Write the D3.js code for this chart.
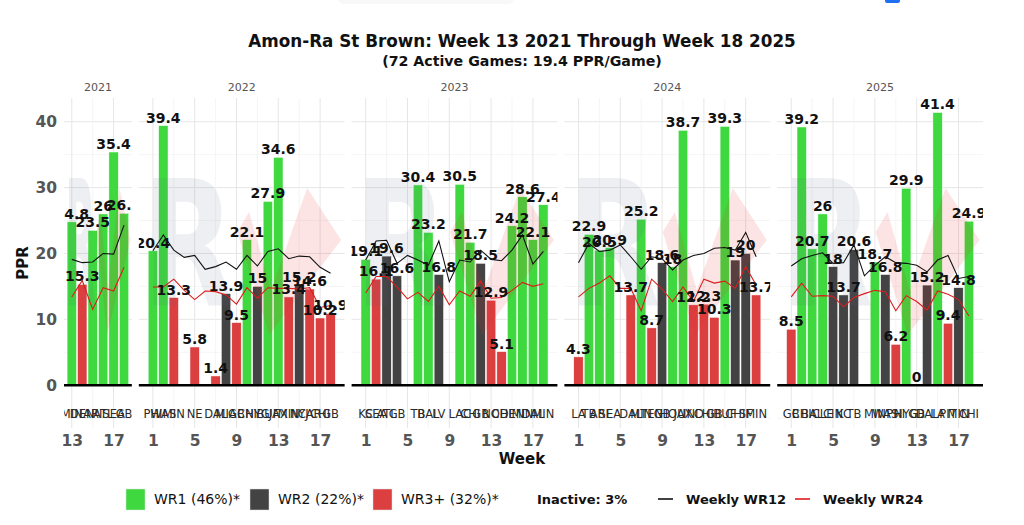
<!DOCTYPE html>
<html>
<head>
<meta charset="utf-8">
<script src="https://cdnjs.cloudflare.com/ajax/libs/d3/7.9.0/d3.min.js"></script>
<style>
  body { margin: 0; background: #fff; }
  svg { display: block; font-family: "DejaVu Sans", sans-serif; }
</style>
</head>
<body>
<div id="chart"></div>
<script>
// --- data ---
// tier: 1 = WR1, 2 = WR2, 3 = WR3+
const weeks21 = [13, 14, 15, 16, 17, 18];
const opp21   = ["MIN", "DEN", "ARI", "ATL", "SEA", "GB"];
const ppr21   = [24.8, 15.3, 23.5, 26, 35.4, 26.1];
const tier21  = [1, 3, 1, 1, 1, 1];
const wr12_21 = [19.1, 18.6, 18.7, 20.0, 19.9, 24.3];
const wr24_21 = [13.4, 15.9, 11.5, 14.8, 14.3, 17.9];

const weeks22 = [1, 2, 3, 5, 7, 8, 9, 10, 11, 12, 13, 14, 15, 16, 17, 18];
const opp22   = ["PHI", "WAS", "MIN", "NE", "DAL", "MIA", "GB", "CHI", "NYG", "BUF", "JAX", "MIN", "NYJ", "CAR", "CHI", "GB"];
const ppr22   = [20.4, 39.4, 13.3, 5.8, 1.4, 13.9, 9.5, 22.1, 15, 27.9, 34.6, 13.4, 15.2, 14.6, 10.2, 10.9];
const tier22  = [1, 1, 3, 3, 3, 2, 3, 1, 2, 1, 1, 3, 2, 3, 3, 3];
const wr12_22 = [20.4, 22.8, 20.5, 19.4, 19.7, 17.6, 18.0, 18.7, 17.6, 19.7, 18.1, 20.3, 20.7, 19.2, 19.6, 19.5, 17.9, 17.0];
const wr24_22 = [14.9, 14.9, 16.1, 14.4, 13.0, 14.3, 14.2, 13.7, 12.3, 14.8, 13.2, 14.8, 14.7, 14.7, 14.6, 14.8, 11.8, 12.1];

const weeks23 = [1, 2, 3, 4, 6, 7, 8, 10, 11, 12, 13, 14, 15, 16, 17, 18];
const opp23   = ["KC", "SEA", "ATL", "GB", "TB", "BAL", "LV", "LAC", "CHI", "GB", "NO", "CHI", "DEN", "MIN", "DAL", "MIN"];
const ppr23   = [19.1, 16.1, 19.6, 16.6, 30.4, 23.2, 16.8, 30.5, 21.7, 18.5, 12.9, 5.1, 24.2, 28.6, 22.1, 27.4];
const tier23  = [1, 3, 2, 2, 1, 1, 2, 1, 1, 2, 3, 3, 1, 1, 1, 1];
const wr12_23 = [19.0, 21.9, 22.0, 18.5, 19.7, 19.0, 18.2, 21.9, 15.7, 19.0, 18.7, 20.5, 19.1, 18.9, 20.5, 22.8, 18.4, 20.3];
const wr24_23 = [14.0, 16.5, 16.5, 14.9, 13.1, 14.1, 12.7, 15.0, 12.2, 14.3, 13.5, 15.8, 13.2, 13.3, 14.4, 15.6, 15.0, 15.4];

const weeks24 = [1, 2, 3, 4, 6, 7, 8, 9, 10, 11, 12, 13, 14, 15, 16, 17, 18];
const opp24   = ["LA", "TB", "ARI", "SEA", "DAL", "MIN", "TEN", "GB", "HOU", "JAX", "IND", "CHI", "GB", "BUF", "CHI", "SF", "MIN"];
const ppr24   = [4.3, 22.9, 20.5, 20.9, 13.7, 25.2, 8.7, 18.6, 18, 38.7, 12.2, 12.3, 10.3, 39.3, 19, 20, 13.7];
const tier24  = [3, 1, 1, 1, 3, 1, 3, 2, 1, 1, 3, 3, 3, 1, 2, 2, 3];
const wr12_24 = [18.6, 21.5, 20.3, 20.5, 21.3, 19.5, 17.6, 19.5, 19.2, 17.5, 19.0, 19.7, 20.0, 20.8, 20.9, 20.5, 23.2, 19.5];
const wr24_24 = [13.4, 14.7, 15.5, 16.6, 14.7, 14.7, 11.3, 16.1, 14.6, 12.7, 14.9, 12.7, 16.1, 15.5, 15.8, 14.7, 18.0, 15.2];

const weeks25 = [1, 2, 3, 4, 5, 6, 7, 9, 10, 11, 12, 13, 14, 15, 16, 17, 18];
const opp25   = ["GB", "CHI", "BAL", "CLE", "CIN", "KC", "TB", "MIN", "WAS", "PHI", "NYG", "GB", "DAL", "LA", "PIT", "MIN", "CHI"];
const ppr25   = [8.5, 39.2, 20.7, 26, 18, 13.7, 20.6, 18.7, 16.8, 6.2, 29.9, 0, 15.2, 41.4, 9.4, 14.8, 24.9];
const tier25  = [3, 1, 1, 1, 2, 2, 2, 1, 2, 3, 1, 3, 2, 1, 3, 2, 1];
const wr12_25 = [18.1, 19.2, 19.7, 20.1, 18.5, 18.6, 21.3, 16.6, 18.2, 19.5, 18.6, 18.5, 18.2, 17.2, 19.0, 19.7, 16.2, 16.5];
const wr24_25 = [13.4, 15.5, 13.5, 13.6, 13.5, 11.9, 13.3, 13.9, 14.4, 14.2, 11.3, 13.6, 12.7, 11.4, 14.3, 13.8, 13.0, 10.5];

const seasonYears = [2021, 2022, 2023, 2024, 2025];
const firstWeeks  = [13, 1, 1, 1, 1];
const lastWeek = 18;

const yTicks = [0, 10, 20, 30, 40];
const tierNames = ["WR1 (46%)*", "WR2 (22%)*", "WR3+ (32%)*"];
const inactiveText = "Inactive: 3%";
const lineNames = ["Weekly WR12", "Weekly WR24"];

const TITLE = "Amon-Ra St Brown: Week 13 2021 Through Week 18 2025";
const SUBTITLE = "(72 Active Games: 19.4 PPR/Game)";

// --- styling ---
const TIER_COL = { 1: "#3fd93f", 2: "#434343", 3: "#db3f3f" };
const COL_WR12 = "#111111";
const COL_WR24 = "#dd1c1c";

const W = 1024, H = 525;
const plotLeft = 64, plotRight = 983, gap = 7;
const panelTop = 98, panelBottom = 428;

const raw = [
  [weeks21, opp21, ppr21, tier21, wr12_21, wr24_21],
  [weeks22, opp22, ppr22, tier22, wr12_22, wr24_22],
  [weeks23, opp23, ppr23, tier23, wr12_23, wr24_23],
  [weeks24, opp24, ppr24, tier24, wr12_24, wr24_24],
  [weeks25, opp25, ppr25, tier25, wr12_25, wr24_25],
];

const panels = seasonYears.map((yr, i) => {
  const [wk, opp, ppr, tier, w12, w24] = raw[i];
  const games = wk.map((w, j) => ({ week: w, opp: opp[j], ppr: ppr[j], tier: tier[j] }));
  const allWeeks = d3.range(firstWeeks[i], lastWeek + 1);
  const l12 = allWeeks.map((w, j) => ({ week: w, v: w12[j] }));
  const l24 = allWeeks.map((w, j) => ({ week: w, v: w24[j] }));
  // continuous scale, bars +/-0.45, then 5% expansion (free x space)
  const lo = firstWeeks[i] - 0.45, hi = lastWeek + 0.45, e = (hi - lo) * 0.05;
  return { yr, games, l12, l24, domain: [lo - e, hi + e] };
});

const totalUnits = d3.sum(panels, p => p.domain[1] - p.domain[0]);
const ppu = (plotRight - plotLeft - gap * (panels.length - 1)) / totalUnits;
let cursor = plotLeft;
panels.forEach(p => {
  p.w = (p.domain[1] - p.domain[0]) * ppu;
  p.x0 = cursor;
  p.x = d3.scaleLinear().domain(p.domain).range([cursor, cursor + p.w]);
  cursor += p.w + gap;
});

const y = d3.scaleLinear().domain([-6.5, 43.6]).range([panelBottom, panelTop]);

const svg = d3.select("#chart").append("svg")
  .attr("width", W).attr("height", H)
  .attr("viewBox", `0 0 ${W} ${H}`);

// page bits along the very top edge of the screenshot
svg.append("rect").attr("x", 338).attr("y", -8).attr("width", 176).attr("height", 12)
  .attr("rx", 6).attr("fill", "#f8f8f8");
svg.append("rect").attr("x", 885).attr("y", -4).attr("width", 15).attr("height", 7)
  .attr("rx", 2).attr("fill", "#1f6ff2");

// titles
svg.append("text").attr("x", 522).attr("y", 47).attr("text-anchor", "middle")
  .attr("font-size", 16.8).attr("font-weight", "bold").attr("fill", "#111").text(TITLE);
svg.append("text").attr("x", 522).attr("y", 66).attr("text-anchor", "middle")
  .attr("font-size", 14.2).attr("font-weight", "bold").attr("fill", "#111").text(SUBTITLE);

const defs = svg.append("defs");

const line = d3.line().x(d => d.px).y(d => y(d.v));

// watermark logo (relative to panel width)
const LOGO_X = [0.478, 0.536, 0.643, 0.818, 0.983, 0.634];
const LOGO_Y = [232, 212, 290, 188, 240, 335];

panels.forEach((p, i) => {
  const g = svg.append("g").attr("class", "panel-" + p.yr);
  const x = p.x;

  defs.append("clipPath").attr("id", "clip" + i)
    .append("rect").attr("x", p.x0).attr("y", panelTop).attr("width", p.w).attr("height", panelBottom - panelTop);

  // strip label
  g.append("text").attr("x", p.x0 + p.w / 2).attr("y", 91).attr("text-anchor", "middle")
    .attr("font-size", 11).attr("fill", "#555").text(p.yr);

  const majors = i === 0 ? [13, 17] : [1, 5, 9, 13, 17];
  const minors = i === 0 ? [15] : [3, 7, 11, 15];

  // grid
  const grid = g.append("g");
  grid.selectAll(".hmin").data(d3.range(-5, 45, 10)).join("line")
    .attr("x1", p.x0).attr("x2", p.x0 + p.w).attr("y1", d => y(d)).attr("y2", d => y(d))
    .attr("stroke", "#f0f0f0").attr("stroke-width", 0.7);
  grid.selectAll(".hmaj").data(yTicks).join("line")
    .attr("x1", p.x0).attr("x2", p.x0 + p.w).attr("y1", d => y(d)).attr("y2", d => y(d))
    .attr("stroke", "#e6e6e6").attr("stroke-width", 1);
  grid.selectAll(".vmin").data(minors).join("line")
    .attr("x1", d => x(d)).attr("x2", d => x(d)).attr("y1", panelTop).attr("y2", panelBottom)
    .attr("stroke", "#f0f0f0").attr("stroke-width", 0.7);
  grid.selectAll(".vmaj").data(majors).join("line")
    .attr("x1", d => x(d)).attr("x2", d => x(d)).attr("y1", panelTop).attr("y2", panelBottom)
    .attr("stroke", "#e6e6e6").attr("stroke-width", 1);

  const inner = g.append("g").attr("clip-path", `url(#clip${i})`);

  // bars
  inner.selectAll("rect.bar").data(p.games).join("rect").attr("class", "bar")
    .attr("x", d => x(d.week) - 0.45 * ppu)
    .attr("width", 0.9 * ppu)
    .attr("y", d => y(d.ppr))
    .attr("height", d => y(0) - y(d.ppr))
    .attr("fill", d => TIER_COL[d.tier])
    .attr("stroke", "#fff").attr("stroke-width", 0.5);

  // watermark on top of bars
  const R_w = 0.45 * p.w;
  inner.append("text").attr("x", p.x0 + 0.017 * p.w).attr("y", 305)
    .attr("font-size", 175).attr("font-weight", "bold")
    .attr("textLength", R_w).attr("lengthAdjust", "spacingAndGlyphs")
    .attr("fill", "rgba(90,100,125,0.10)").text("R");
  inner.append("polygon")
    .attr("points", LOGO_X.map((fx, k) => `${p.x0 + fx * p.w},${LOGO_Y[k]}`).join(" "))
    .attr("fill", "rgba(228,45,45,0.13)");

  // weekly thresholds
  p.l12.forEach(d => d.px = x(d.week));
  p.l24.forEach(d => d.px = x(d.week));
  inner.append("path").attr("d", line(p.l12)).attr("fill", "none")
    .attr("stroke", COL_WR12).attr("stroke-width", 1.1);
  inner.append("path").attr("d", line(p.l24)).attr("fill", "none")
    .attr("stroke", COL_WR24).attr("stroke-width", 1.1);

  // zero line
  g.append("line").attr("x1", p.x0).attr("x2", p.x0 + p.w).attr("y1", y(0)).attr("y2", y(0))
    .attr("stroke", "#000").attr("stroke-width", 2.6);

  // value labels
  inner.selectAll("text.val").data(p.games).join("text").attr("class", "val")
    .attr("x", d => x(d.week)).attr("y", d => y(d.ppr) - 3)
    .attr("text-anchor", "middle").attr("font-size", 14).attr("font-weight", "bold")
    .attr("fill", "#111").text(d => String(d.ppr));

  // opponent labels under the bars
  inner.selectAll("text.opp").data(p.games).join("text").attr("class", "opp")
    .attr("x", d => x(d.week)).attr("y", y(-4.3) + 4)
    .attr("text-anchor", "middle").attr("font-size", 11.5)
    .attr("fill", "#2a2a2a").text(d => d.opp);

  // x axis
  const ax = g.append("g").attr("transform", `translate(0,${panelBottom + 4})`)
    .call(d3.axisBottom(x).tickValues(majors).tickSize(0).tickPadding(3).tickFormat(d3.format("d")));
  ax.select(".domain").remove();
  ax.selectAll("text").attr("font-size", 15.5).attr("font-weight", "bold")
    .attr("fill", "#555").attr("font-family", "DejaVu Sans, sans-serif");
});

// y axis on first panel
const yax = svg.append("g").attr("transform", `translate(${plotLeft},0)`)
  .call(d3.axisLeft(y).tickValues(yTicks).tickSize(0).tickPadding(7));
yax.select(".domain").remove();
yax.selectAll("text").attr("font-size", 15.5).attr("font-weight", "bold")
  .attr("fill", "#555").attr("font-family", "DejaVu Sans, sans-serif");

svg.append("text").attr("transform", `translate(28,${(panelTop + panelBottom) / 2}) rotate(-90)`)
  .attr("text-anchor", "middle").attr("font-size", 15).attr("font-weight", "bold")
  .attr("fill", "#111").text("PPR");
svg.append("text").attr("x", 522).attr("y", 464).attr("text-anchor", "middle")
  .attr("font-size", 15).attr("font-weight", "bold").attr("fill", "#111").text("Week");

// legend
const leg = svg.append("g");
const boxX = [126, 250, 373];
tierNames.forEach((t, k) => {
  leg.append("rect").attr("x", boxX[k]).attr("y", 489).attr("width", 19).attr("height", 21)
    .attr("fill", TIER_COL[k + 1]).attr("stroke", "#ddd").attr("stroke-width", 0.5);
  leg.append("text").attr("x", boxX[k] + 28).attr("y", 504).attr("font-size", 14)
    .attr("fill", "#111").text(t);
});
leg.append("text").attr("x", 537).attr("y", 504).attr("font-size", 13).attr("font-weight", "bold")
  .attr("fill", "#111").text(inactiveText);
const lineLeg = [[658, COL_WR12], [795, COL_WR24]];
lineNames.forEach((t, k) => {
  const [lx, c] = lineLeg[k];
  leg.append("line").attr("x1", lx).attr("x2", lx + 15).attr("y1", 499).attr("y2", 499)
    .attr("stroke", c).attr("stroke-width", 1.6);
  leg.append("text").attr("x", lx + 28).attr("y", 504).attr("font-size", 13).attr("font-weight", "bold")
    .attr("fill", "#111").text(t);
});
</script>
</body>
</html>
